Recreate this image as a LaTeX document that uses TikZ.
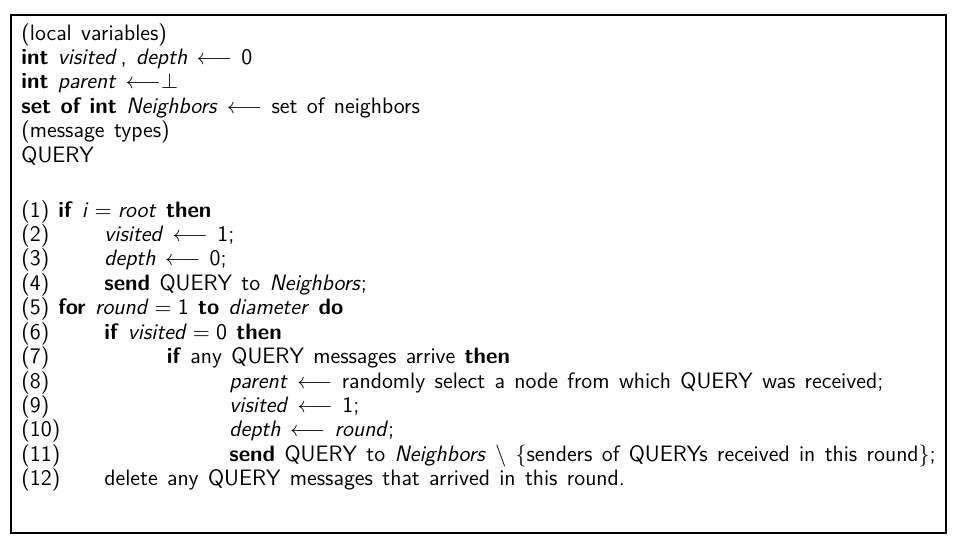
\documentclass[tikz,border=0pt]{standalone}
\usetikzlibrary{calc}

\newcommand{\var}[1]{\textit{#1}}
\newcommand{\kw}[1]{\textbf{#1}}
\newcommand{\getsto}{$\longleftarrow$}
\newcommand{\eqto}{$\;=\;$}
\newcommand{\codefont}{\sffamily\fontsize{11.15}{13}\selectfont\spaceskip=0.42em\relax}

\begin{document}
\begin{tikzpicture}[x=0.5pt, y=-0.5pt,
  every node/.style={font=\codefont, inner sep=0pt, anchor=base west}]

 \useasboundingbox (0,0) rectangle (953,546);
 \draw[line width=0.6pt] (11,15) rectangle (946,533);

 %declarations
 \node (H1) at (21,40)    {(local variables)};
 \node (H2) at (21,64.4)  {\kw{int} \var{visited}\,, \var{depth} \getsto{} 0};
 \node (H3) at (21,88.8)  {\kw{int} \var{parent} $\longleftarrow\perp$};
 \node (H4) at (21,113.2) {\kw{set of int} \var{Neighbors} \getsto{} set of neighbors};
 \node (H5) at (21,137.6) {(message types)};
 \node (H6) at (21,162)   {QUERY};

 %line numbers
 \foreach \i in {1,...,12} {
   \node (N\i) at (21, {217+(\i-1)*24.43}) {(\i)};
 }

 %level 0
 \node (C1) at (58,217)    {\kw{if} \var{i}\eqto\var{root} \kw{then}};
 \node (C5) at (58,314.7)  {\kw{for} \var{round}\eqto 1 \kw{to} \var{diameter} \kw{do}};

 %level 1
 \node (C2) at (104,241.4)  {\var{visited} \getsto{} 1;};
 \node (C3) at (104,265.9)  {\var{depth} \getsto{} 0;};
 \node (C4) at (104,290.3)  {\kw{send} QUERY to \var{Neighbors};};
 \node (C6) at (104,339.2)  {\kw{if} \var{visited}\eqto 0 \kw{then}};
 \node (C12) at (104,485.7) {delete any QUERY messages that arrived in this round.};

 %level 2
 \node (C7) at (166.5,363.6) {\kw{if} any QUERY messages arrive \kw{then}};

 %level 3
 \node (C8)  at (229,388.0) {\var{parent} \getsto{} randomly select a node from which QUERY was received;};
 \node (C9)  at (229,412.4) {\var{visited} \getsto{} 1;};
 \node (C10) at (229,436.9) {\var{depth} \getsto{} \var{round};};
 \node (C11) at (229,461.3) {\kw{send} QUERY to \var{Neighbors} $\setminus$ $\{$senders of QUERYs received in this round$\}$;};

\end{tikzpicture}
\end{document}
